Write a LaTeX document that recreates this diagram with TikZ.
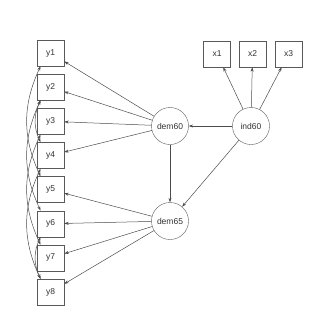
\documentclass[tikz,border=0pt]{standalone}
\usepackage{fontspec}
\setmainfont{Liberation Sans}
\usetikzlibrary{arrows.meta}

\begin{document}
\begin{tikzpicture}[x=1pt, y=-1pt,
	every node/.style={font=\fontsize{8.5}{10}\selectfont, text=black!80},
	obs/.style={draw=black!65, minimum width=27pt, minimum height=26pt, inner sep=0pt},
	lat/.style={circle, draw=black!65, minimum size=37pt, inner sep=0pt},
	reg/.style={draw=black!70, line width=0.5pt, -{Stealth[length=4.5pt,width=3pt]}},
	cov/.style={reg, {Stealth[length=4.5pt,width=3pt]}-{Stealth[length=4.5pt,width=3pt]}}]
	\useasboundingbox (0,0) rectangle (320,314);
	% observed
	\foreach \i in {1,...,8} {\node[obs] (y\i) at (50.5,{53+(\i-1)*34.15}) {y\i};}
	\foreach \i/\x in {1/217,2/252.5,3/288.5} {\node[obs] (x\i) at (\x,54) {x\i};}
	% latent
	\node[lat] (dem60) at (170,126) {dem60};
	\node[lat] (dem65) at (170,221) {dem65};
	\node[lat] (ind60) at (251,126) {ind60};
	% loadings and regressions
	\foreach \i in {1,...,4} {\draw[reg] (dem60) -- (y\i);}
	\foreach \i in {5,...,8} {\draw[reg] (dem65) -- (y\i);}
	\foreach \i in {1,2,3} {\draw[reg] (ind60) -- (x\i);}
	\draw[reg] (ind60) -- (dem60);
	\draw[reg] (ind60) -- (dem65);
	\draw[reg] (dem60) -- (dem65);
	% residual covariances
	\foreach \a/\b in {1/5, 2/4, 2/6, 3/7, 4/8, 6/8} {\draw[cov] (y\a.-127) to[out=245, in=115] (y\b.127);}
\end{tikzpicture}
\end{document}
